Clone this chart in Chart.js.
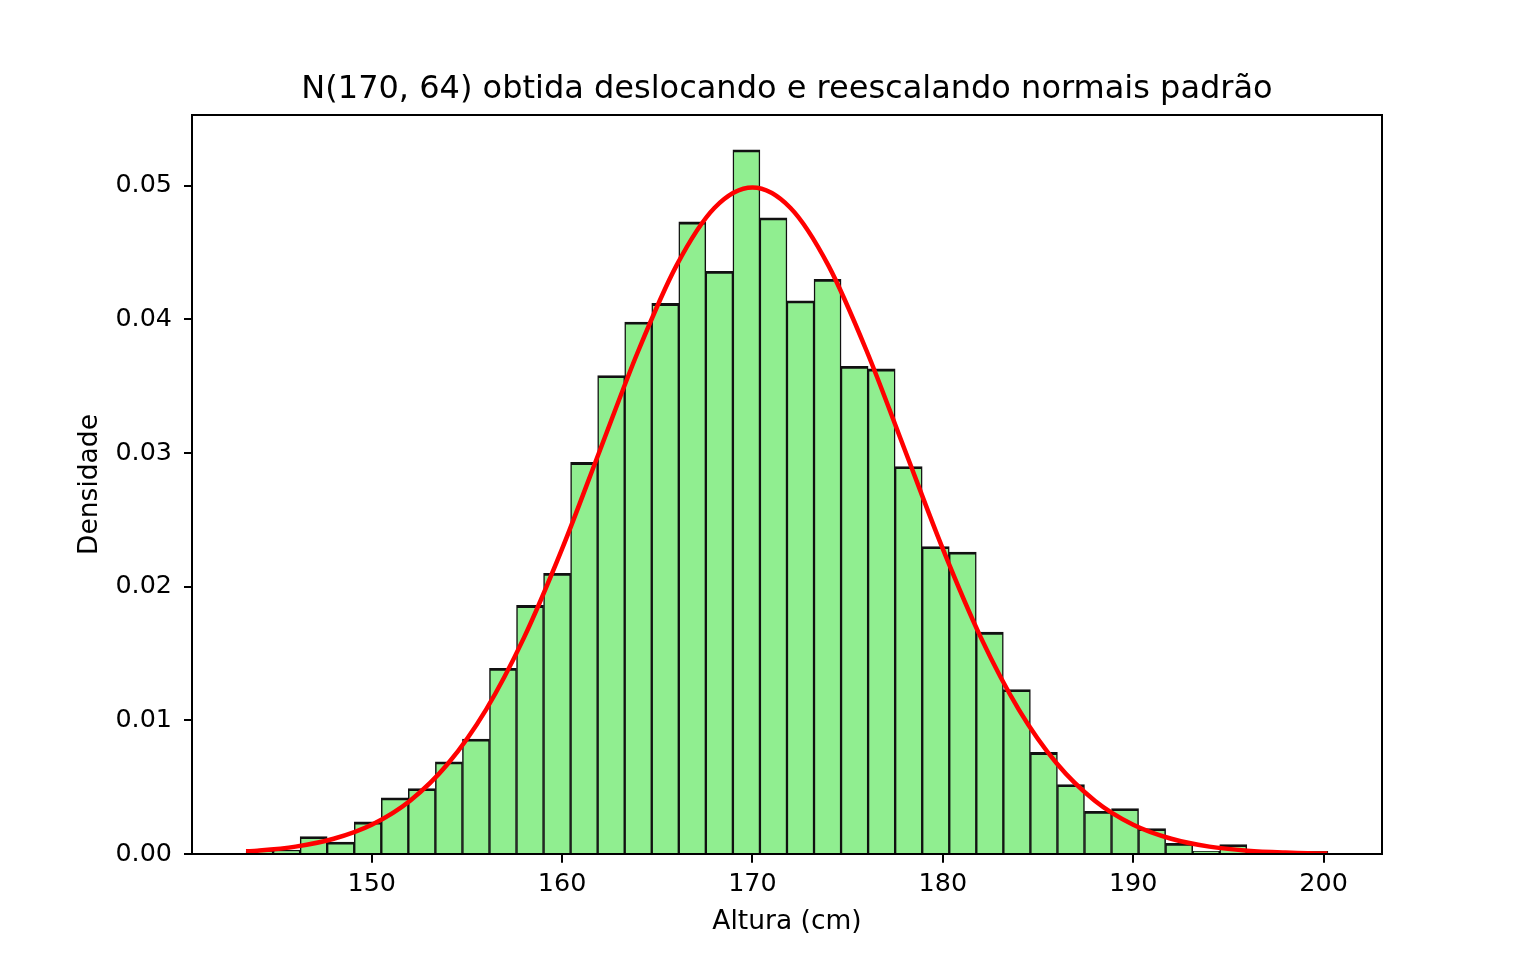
<!DOCTYPE html>
<html>
<head>
<meta charset="utf-8">
<script src="https://cdn.jsdelivr.net/npm/chart.js@4.4.1/dist/chart.umd.min.js"></script>
<style>
  html,body{margin:0;padding:0;background:#fff;}
  #wrap{width:1536px;height:960px;}
</style>
</head>
<body>
<div id="wrap"><canvas id="hist" width="1536" height="960"></canvas></div>
<script>
// bin centres (cm) and density per bin
const binCenters = [144.110,145.531,146.951,148.372,149.793,151.214,152.634,154.055,155.476,156.896,
  158.317,159.738,161.158,162.579,164.000,165.421,166.841,168.262,169.683,171.103,
  172.524,173.945,175.365,176.786,178.207,179.628,181.048,182.469,183.890,185.310,
  186.731,188.152,189.572,190.993,192.414,193.834,195.255,196.676,198.097,199.517];
const binDensity = [0.0002,0.0003,0.0013,0.0009,0.0024,0.0042,0.0049,0.0069,0.0086,0.0139,
  0.0186,0.0210,0.0293,0.0358,0.0398,0.0412,0.0473,0.0436,0.0527,0.0476,
  0.0414,0.0430,0.0365,0.0363,0.0290,0.0230,0.0226,0.0166,0.0123,0.0076,
  0.0052,0.0032,0.0034,0.0019,0.0008,0.0002,0.0007,0,0,0.0002];

// red density curve
const curveX = [143.4,144,146,148,150,152,154,156,158,160,162,164,166,168,170,
  172,174,176,178,180,182,184,186,188,190,192,194,196,198,200,200.2];
const curveY = [0.00020,0.00025,0.00055,0.00114,0.00219,0.00397,0.00675,0.01079,0.01619,0.02283,
  0.03025,0.03764,0.04401,0.04834,0.04987,0.04834,0.04401,0.03764,0.03025,0.02283,
  0.01619,0.01079,0.00675,0.00397,0.00219,0.00114,0.00055,0.00025,0.00011,0.00004,0.00004];

const xTicks = [150,160,170,180,190,200];
const yTicks = [0,0.01,0.02,0.03,0.04,0.05];

const TITLE = 'N(170, 64) obtida deslocando e reescalando normais padrão';
const FONT = 'DejaVu Sans';

// axes box on all four sides plus a title centred over the plot area
const frame = {
  id:'frame',
  afterDraw(chart){
    const {ctx, chartArea:a} = chart;
    ctx.save();
    ctx.strokeStyle='#000';
    ctx.lineWidth=2;
    ctx.strokeRect(a.left, a.top, a.right-a.left, a.bottom-a.top);
    ctx.fillStyle='#000';
    ctx.font = `32px "${FONT}"`;
    ctx.textAlign='center';
    ctx.textBaseline='alphabetic';
    ctx.fillText(TITLE, (a.left+a.right)/2, 97.5);
    ctx.restore();
  }
};

new Chart(document.getElementById('hist'),{
  type:'bar',
  data:{
    datasets:[
      {
        type:'line',
        data: curveX.map((x,i)=>({x, y:curveY[i]})),
        borderColor:'#ff0000',
        borderWidth:4.5,
        pointRadius:0,
        fill:false,
        cubicInterpolationMode:'monotone',
        order:0
      },
      {
        type:'bar',
        data: binCenters.map((x,i)=>({x, y:binDensity[i]})),
        backgroundColor:'#90ee90',
        borderColor:'#111',
        borderWidth:{top:2.8,left:1.5,right:1.5,bottom:0},
        barPercentage:1,
        categoryPercentage:1,
        grouped:false,
        order:1
      }
    ]
  },
  options:{
    responsive:false,
    devicePixelRatio:1,
    animation:false,
    layout:{padding:{left:0,right:154,top:115,bottom:0}},
    plugins:{
      legend:{display:false},
      tooltip:{enabled:false},
      title:{display:false}
    },
    scales:{
      x:{
        type:'linear',
        min:140.56, max:203.07,
        offset:false,
        grid:{display:true,drawOnChartArea:false,drawTicks:true,tickLength:8.7,color:'#000',lineWidth:2,offset:false},
        border:{display:false},
        afterBuildTicks(s){ s.ticks = xTicks.map(v=>({value:v})); },
        ticks:{color:'#000',font:{family:FONT,size:25.4},padding:6,maxRotation:0,includeBounds:false,
          callback:v=>String(v)},
        title:{display:true,text:'Altura (cm)',color:'#000',font:{family:FONT,size:26.5},padding:{top:0,bottom:22}},
        afterFit(s){ s.height = 106; }
      },
      y:{
        type:'linear',
        min:0, max:0.0553,
        grid:{display:true,drawOnChartArea:false,drawTicks:true,tickLength:8,color:'#000',lineWidth:2},
        border:{display:false},
        afterBuildTicks(s){ s.ticks = yTicks.map(v=>({value:v})); },
        ticks:{color:'#000',font:{family:FONT,size:25.4},padding:12,includeBounds:false,
          callback:v=>Number(v).toFixed(2)},
        title:{display:true,text:'Densidade',color:'#000',font:{family:FONT,size:26.5},padding:{top:74,bottom:0}},
        afterFit(s){ s.width = 192; }
      }
    }
  },
  plugins:[frame]
});
</script>
</body>
</html>
